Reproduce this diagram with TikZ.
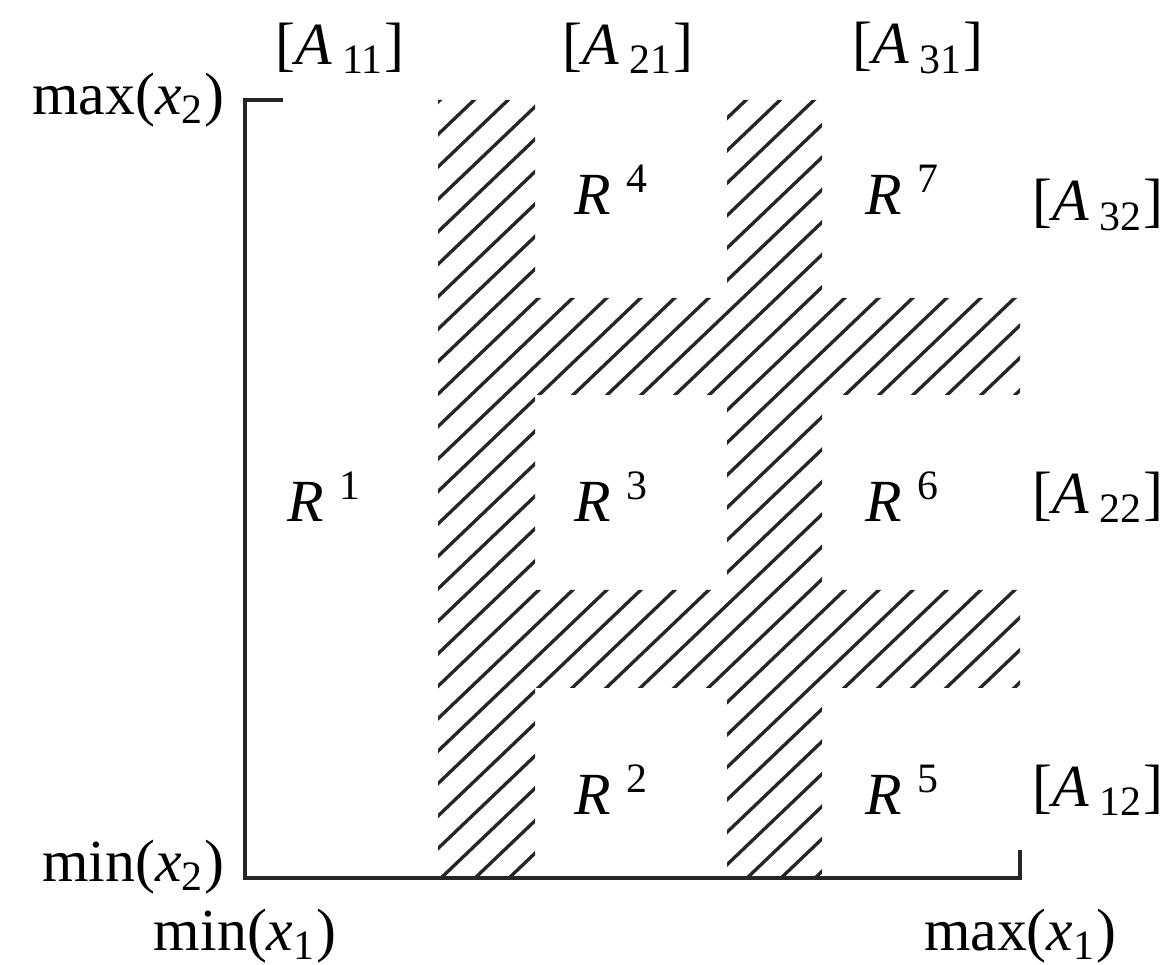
\documentclass[tikz,border=0pt]{standalone}
\usepackage{fontspec}
\setmainfont{Liberation Serif}
\usetikzlibrary{positioning}

\begin{document}
\begin{tikzpicture}[
    x=0.01cm, y=-0.01cm,
    lbl/.style={inner sep=0pt, font=\fontsize{17}{20}\selectfont},
    regionlbl/.style={lbl},
    frameline/.style={line width=1.1pt, black!85},
    hatchline/.style={line width=0.95pt, black!85}
]
\useasboundingbox (0,0) rectangle (1163,965);

% Frame corners
\coordinate (tl) at (245,100);
\coordinate (tick) at (283,100);
\coordinate (bl) at (245,878);
\coordinate (br) at (1020,878);
\coordinate (brtick) at (1020,850);

% Hatched bands
\begin{scope}
\clip (438,100) rectangle (535,878)
      (727,100) rectangle (822,878)
      (438,298) rectangle (1020,395)
      (438,590) rectangle (1020,688);
\foreach \c in {-500,-466,...,1100}
  \draw[hatchline] (\c,900) -- ++(880,-840);
\end{scope}

% Frame
\draw[frameline] (tick) -- (tl) -- (bl) -- (br) -- (brtick);

% Axis labels
\node[lbl, left=0.2cm of tl] (maxx2) {max(\textit{x}\textsubscript{2})};
\node[lbl, left=0.2cm of bl, yshift=3pt] (minx2) {min(\textit{x}\textsubscript{2})};
\node[lbl, below=0.3cm of bl] (minx1) {min(\textit{x}\textsubscript{1})};
\node[lbl, below=0.3cm of br] (maxx1) {max(\textit{x}\textsubscript{1})};

% Column labels
\node[lbl] (a11) at (340,48) {[\textit{A}\,\textsubscript{11}]};
\node[lbl] (a21) at (628,48) {[\textit{A}\,\textsubscript{21}]};
\node[lbl] (a31) at (918,48) {[\textit{A}\,\textsubscript{31}]};

% Row labels
\node[lbl] (a32) at (1098,205) {[\textit{A}\,\textsubscript{32}]};
\node[lbl] (a22) at (1098,497) {[\textit{A}\,\textsubscript{22}]};
\node[lbl] (a12) at (1098,790) {[\textit{A}\,\textsubscript{12}]};

% Regions
\node[regionlbl] (r1) at (325,497) {\textit{R}\hspace{0.25em}\textsuperscript{1}};
\node[regionlbl] (r2) at (612,790) {\textit{R}\hspace{0.25em}\textsuperscript{2}};
\node[regionlbl] (r3) at (612,497) {\textit{R}\hspace{0.25em}\textsuperscript{3}};
\node[regionlbl] (r4) at (612,190) {\textit{R}\hspace{0.25em}\textsuperscript{4}};
\node[regionlbl] (r5) at (903,790) {\textit{R}\hspace{0.25em}\textsuperscript{5}};
\node[regionlbl] (r6) at (903,497) {\textit{R}\hspace{0.25em}\textsuperscript{6}};
\node[regionlbl] (r7) at (903,190) {\textit{R}\hspace{0.25em}\textsuperscript{7}};

\end{tikzpicture}
\end{document}
